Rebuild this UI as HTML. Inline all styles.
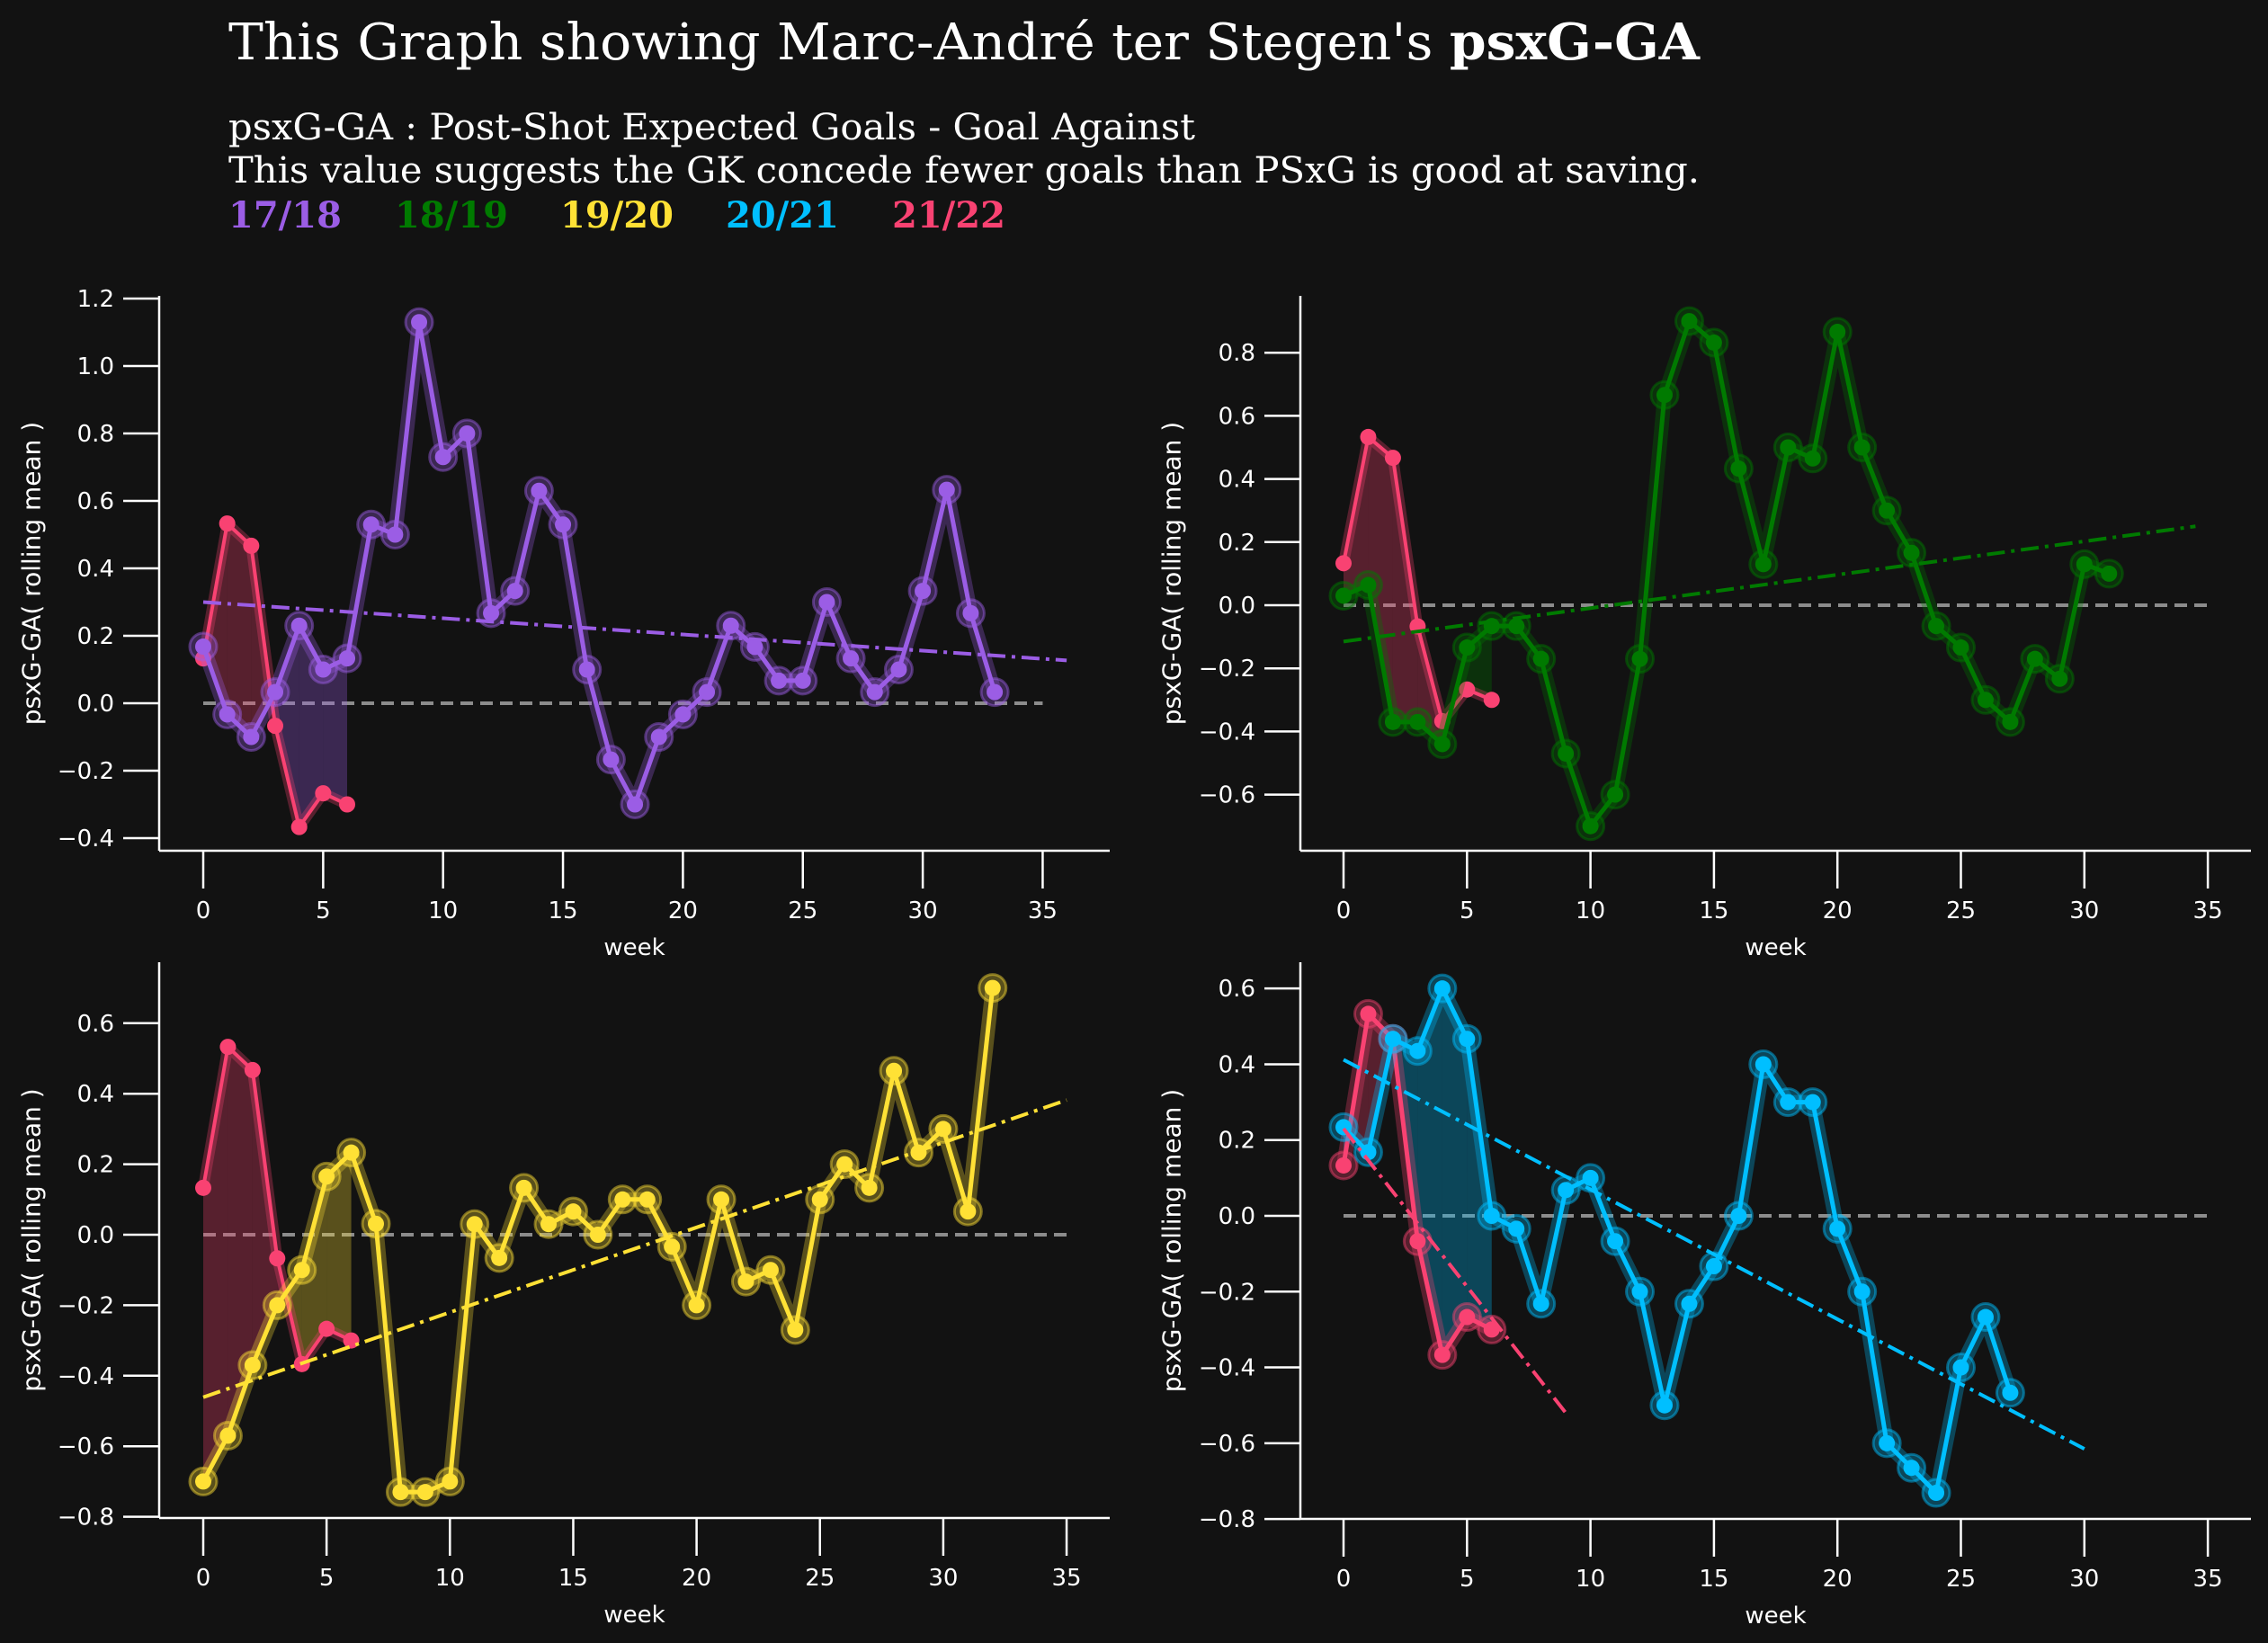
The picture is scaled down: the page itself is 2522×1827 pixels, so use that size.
<!DOCTYPE html>
<html><head><meta charset="utf-8">
<style>
html,body{margin:0;padding:0;background:#121212;}
svg{display:block;}
</style></head>
<body>
<svg id="chart" xmlns="http://www.w3.org/2000/svg" width="2522" height="1827" viewBox="0 0 2522 1827">
<rect x="0" y="0" width="2522" height="1827" fill="#121212"/>
<g font-family="'DejaVu Serif','Liberation Serif',serif" fill="#ffffff">
<text x="254" y="66" font-size="56" textLength="1636" lengthAdjust="spacingAndGlyphs">This Graph showing Marc-André ter Stegen's <tspan font-weight="bold">psxG-GA</tspan></text>
<text x="254" y="155" font-size="40" textLength="1075" lengthAdjust="spacingAndGlyphs">psxG-GA : Post-Shot Expected Goals - Goal Against</text>
<text x="254" y="203" font-size="40" textLength="1636" lengthAdjust="spacingAndGlyphs">This value suggests the GK concede fewer goals than PSxG is good at saving.</text>
<text x="254" y="253" font-size="40" font-weight="bold" fill="#9b5de5">17/18</text>
<text x="439" y="253" font-size="40" font-weight="bold" fill="#007a00">18/19</text>
<text x="623" y="253" font-size="40" font-weight="bold" fill="#ffe135">19/20</text>
<text x="807" y="253" font-size="40" font-weight="bold" fill="#00bfff">20/21</text>
<text x="992" y="253" font-size="40" font-weight="bold" fill="#f94272">21/22</text>
</g>
</svg>
<script>
// ---- data ----
const weeksTicks = [0,5,10,15,20,25,30,35];
const current2122 = [0.133,0.533,0.467,-0.067,-0.367,-0.267,-0.3];
const season1718 = [0.168,-0.033,-0.1,0.033,0.23,0.1,0.133,0.53,0.5,1.13,0.73,0.8,0.267,0.333,0.63,0.53,0.1,-0.167,-0.3,-0.1,-0.033,0.033,0.23,0.167,0.067,0.067,0.3,0.133,0.033,0.1,0.333,0.633,0.267,0.033];
const season1819 = [0.03,0.064,-0.37,-0.37,-0.44,-0.134,-0.066,-0.066,-0.17,-0.47,-0.70,-0.6,-0.17,0.666,0.9,0.832,0.433,0.13,0.5,0.465,0.866,0.5,0.3,0.166,-0.066,-0.134,-0.3,-0.37,-0.17,-0.233,0.13,0.1];
const season1920 = [-0.70,-0.57,-0.37,-0.2,-0.1,0.165,0.233,0.031,-0.73,-0.73,-0.70,0.03,-0.066,0.133,0.03,0.066,0,0.1,0.1,-0.034,-0.2,0.1,-0.133,-0.1,-0.27,0.1,0.2,0.133,0.465,0.233,0.3,0.066,0.7];
const season2021 = [0.234,0.168,0.467,0.435,0.6,0.467,0,-0.034,-0.232,0.068,0.1,-0.067,-0.2,-0.5,-0.232,-0.133,0,0.4,0.3,0.3,-0.034,-0.2,-0.6,-0.665,-0.731,-0.4,-0.267,-0.467];
const trendWeeks1718 = [0,36];
const trendVals1718 = [0.3,0.127];
const trendWeeks1819 = [0,34.5];
const trendVals1819 = [-0.115,0.25];
const trendWeeks1920 = [0,35];
const trendVals1920 = [-0.461,0.382];
const trendWeeks2021 = [0,30];
const trendVals2021 = [0.412,-0.615];
const trendWeeks2122 = [0,9];
const trendVals2122 = [0.23,-0.52];
const yTicks1 = [-0.4,-0.2,0,0.2,0.4,0.6,0.8,1.0,1.2];
const yTicks2 = [-0.6,-0.4,-0.2,0,0.2,0.4,0.6,0.8];
const yTicks3 = [-0.8,-0.6,-0.4,-0.2,0,0.2,0.4,0.6];
const yTicks4 = [-0.8,-0.6,-0.4,-0.2,0,0.2,0.4,0.6];

const NS='http://www.w3.org/2000/svg';
const svg=document.getElementById('chart');
const PINK='#f94272';
function mk(tag,attrs,parent){const e=document.createElementNS(NS,tag);for(const k in attrs)e.setAttribute(k,attrs[k]);parent.appendChild(e);return e;}
function fmt(v){const s=Math.abs(v).toFixed(1);return (v<-1e-9?'\u2212':'')+s;}

const panels=[
 {key:'1718',vals:season1718,color:'#9b5de5',tw:trendWeeks1718,tv:trendVals1718,yt:yTicks1,
  left:177,right:1234,top:329,bottom:946,x0:226,pxw:26.67,y0:782,pxu:375,ylabx:35,pinkHalo:false,pinkTrend:false},
 {key:'1819',vals:season1819,color:'#007a00',tw:trendWeeks1819,tv:trendVals1819,yt:yTicks2,
  left:1446,right:2503,top:329,bottom:946,x0:1494,pxw:27.46,y0:673,pxu:351,ylabx:1303,pinkHalo:false,pinkTrend:false},
 {key:'1920',vals:season1920,color:'#ffe135',tw:trendWeeks1920,tv:trendVals1920,yt:yTicks3,
  left:177,right:1234,top:1070,bottom:1688,x0:226,pxw:27.43,y0:1373,pxu:392,ylabx:35,pinkHalo:false,pinkTrend:false},
 {key:'2021',vals:season2021,color:'#00bfff',tw:trendWeeks2021,tv:trendVals2021,yt:yTicks4,
  left:1446,right:2503,top:1070,bottom:1689,x0:1494,pxw:27.46,y0:1352,pxu:421.4,ylabx:1303,pinkHalo:true,pinkTrend:true}
];

function drawSeries(g,vals,color,X,Y,name,opts){
  const pts=vals.map((v,i)=>X(i)+','+Y(v)).join(' ');
  const halo=mk('polyline',{points:pts,fill:'none',stroke:color,'stroke-width':opts.haloW,'stroke-opacity':0.3,'stroke-linejoin':'round','stroke-linecap':'round'},g);
  
  
  if(opts.markerHalo){
    vals.forEach((v,i)=>{
      const c=mk('circle',{cx:X(i),cy:Y(v),r:opts.mh,fill:color,'fill-opacity':0.3,stroke:color,'stroke-opacity':0.45,'stroke-width':3},g);
      
      
    });
  }
  const line=mk('polyline',{points:pts,fill:'none',stroke:color,'stroke-width':opts.lw,'stroke-linejoin':'round'},g);
  
  
  vals.forEach((v,i)=>{
    const c=mk('circle',{cx:X(i),cy:Y(v),r:opts.mr,fill:color},g);
    
    
  });
}

panels.forEach((p,pi)=>{
  const X=w=>p.x0+w*p.pxw;
  const Y=v=>p.y0-v*p.pxu;
  const g=mk('g',{},svg);
  
  
  const ax=mk('g',{stroke:'#ffffff','stroke-width':2.5,fill:'none'},g);
  
  
  const ys=mk('line',{x1:p.left,y1:p.top,x2:p.left,y2:p.bottom},ax);
  
  
  const xs=mk('line',{x1:p.left,y1:p.bottom,x2:p.right,y2:p.bottom},ax);
  
  
  const tg=mk('g',{fill:'#ffffff','font-family':"'DejaVu Sans','Liberation Sans',sans-serif",'font-size':26},g);
  weeksTicks.forEach(w=>{
    const t=mk('line',{x1:X(w),y1:p.bottom,x2:X(w),y2:p.bottom+42,stroke:'#fff','stroke-width':2.5},tg);
    
    
    const l=mk('text',{x:X(w),y:p.bottom+75,'text-anchor':'middle'},tg);
    l.textContent=String(w);
    
    
  });
  p.yt.forEach(v=>{
    const t=mk('line',{x1:p.left-40,y1:Y(v),x2:p.left,y2:Y(v),stroke:'#fff','stroke-width':2.5},tg);
    
    
    const l=mk('text',{x:p.left-50,y:Y(v)+9,'text-anchor':'end'},tg);
    l.textContent=fmt(v);
    
    
  });
  const xl=mk('text',{x:(p.left+p.right)/2,y:p.bottom+116,'text-anchor':'middle'},tg);
  xl.textContent='week';
  
  
  const cy=(p.top+p.bottom)/2;
  const yl=mk('text',{x:p.ylabx,y:cy,'text-anchor':'middle','font-size':28,transform:'rotate(-90 '+p.ylabx+' '+cy+')','dominant-baseline':'central'},tg);
  yl.textContent='psxG-GA( rolling mean )';
  
  
  const z=mk('line',{x1:X(0),y1:Y(0),x2:X(35),y2:Y(0),stroke:'#8c8c8c','stroke-width':4,'stroke-dasharray':'14 8'},g);
  
  
  const n=Math.min(current2122.length,p.vals.length);
  for(let i=0;i<n-1;i++){
    const s0=p.vals[i],s1=p.vals[i+1],c0=current2122[i],c1=current2122[i+1];
    const d0=s0-c0,d1=s1-c1;
    const segs=[];
    if(d0*d1>=0){segs.push([i,i+1,d0+d1>=0]);}
    else{const t=d0/(d0-d1);segs.push([i,i+t,d0>0]);segs.push([i+t,i+1,d1>0]);}
    segs.forEach(([a,b,up])=>{
      const sa=s0+(s1-s0)*(a-i),sb=s0+(s1-s0)*(b-i),ca=c0+(c1-c0)*(a-i),cb=c0+(c1-c0)*(b-i);
      const poly=mk('polygon',{points:[X(a)+','+Y(sa),X(b)+','+Y(sb),X(b)+','+Y(cb),X(a)+','+Y(ca)].join(' '),fill:up?p.color:PINK,'fill-opacity':0.3},g);
      
      
    });
  }
  drawSeries(g,current2122,PINK,X,Y,'series-21-22',p.pinkHalo?{haloW:16,lw:5,mr:9,mh:15,markerHalo:true}:{haloW:12,lw:4,mr:9,markerHalo:false});
  drawSeries(g,p.vals,p.color,X,Y,'series-'+p.key,{haloW:16,lw:5,mr:9,mh:15,markerHalo:true});
  const tr=mk('line',{x1:X(p.tw[0]),y1:Y(p.tv[0]),x2:X(p.tw[1]),y2:Y(p.tv[1]),stroke:p.color,'stroke-width':4,'stroke-dasharray':'20 7 4 7'},g);
  
  
  if(p.pinkTrend){
    const t2=mk('line',{x1:X(trendWeeks2122[0]),y1:Y(trendVals2122[0]),x2:X(trendWeeks2122[1]),y2:Y(trendVals2122[1]),stroke:PINK,'stroke-width':4,'stroke-dasharray':'20 7 4 7'},g);
    
    
  }
});
</script>
</body></html>
